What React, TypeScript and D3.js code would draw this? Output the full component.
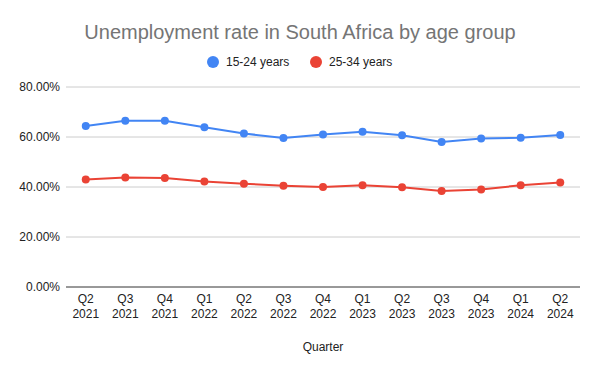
import React from 'react';
import * as d3 from 'd3';

const quarters = ['Q2', 'Q3', 'Q4', 'Q1', 'Q2', 'Q3', 'Q4', 'Q1', 'Q2', 'Q3', 'Q4', 'Q1', 'Q2'];
const years = ['2021', '2021', '2021', '2022', '2022', '2022', '2022', '2023', '2023', '2023', '2023', '2024', '2024'];
const youth = [64.4, 66.5, 66.5, 63.9, 61.4, 59.6, 61.0, 62.1, 60.7, 58.0, 59.4, 59.7, 60.8];
const adults = [43.0, 43.8, 43.6, 42.2, 41.3, 40.5, 40.0, 40.7, 39.9, 38.4, 39.0, 40.7, 41.8];
const yTicks = [0, 20, 40, 60, 80];

const App = () => {
  const width = 600;
  const height = 371;
  const blue = '#4285F4';
  const red = '#EA4335';
  const margin = { top: 87, right: 20, bottom: 84, left: 66 };
  const font = 'Arial, "Liberation Sans", sans-serif';

  const idx = d3.range(quarters.length);
  const xScale = d3
    .scaleBand<number>()
    .domain(idx)
    .range([margin.left, width - margin.right]);
  const cx = (i: number) => xScale(i)! + xScale.bandwidth() / 2;

  const yScale = d3
    .scaleLinear()
    .domain([0, 80])
    .range([height - margin.bottom, margin.top]);

  const line = d3
    .line<number>()
    .x((_, i) => cx(i))
    .y(d => yScale(d));

  const series = [
    { name: '15-24 years', values: youth, color: blue },
    { name: '25-34 years', values: adults, color: red }
  ];

  return (
    <svg width={width} height={height} style={{ position: 'absolute', left: 0, top: 0 }}>
      <rect width={width} height={height} fill='#fff' />
      <text x={300} y={39} textAnchor='middle' fontFamily={font} fontSize={20} fill='#757575'>
        Unemployment rate in South Africa by age group
      </text>
      {series.map((s, i) => (
        <g key={s.name} transform={`translate(${213 + i * 103}, 62)`}>
          <circle r={6} cx={0} cy={0} fill={s.color} />
          <text x={13} y={4} fontFamily={font} fontSize={12} fill='#222'>
            {s.name}
          </text>
        </g>
      ))}
      {yTicks.map(t => (
        <g key={t}>
          {t !== 0 && (
            <line
              x1={margin.left}
              x2={width - margin.right}
              y1={yScale(t)}
              y2={yScale(t)}
              stroke='#ccc'
              strokeWidth={1}
            />
          )}
          <text
            x={margin.left - 6}
            y={yScale(t) + 4}
            textAnchor='end'
            fontFamily={font}
            fontSize={12}
            fill='#222'
          >
            {d3.format('.2f')(t) + '%'}
          </text>
        </g>
      ))}
      {series.map(s => (
        <g key={s.name}>
          <path d={line(s.values) || ''} fill='none' stroke={s.color} strokeWidth={2} />
          {s.values.map((v, i) => (
            <circle key={i} r={4} cx={cx(i)} cy={yScale(v)} fill={s.color} />
          ))}
        </g>
      ))}
      <line
        x1={margin.left}
        x2={width - margin.right}
        y1={yScale(0)}
        y2={yScale(0)}
        stroke='#333'
        strokeWidth={1}
      />
      {idx.map(i => (
        <text key={i} textAnchor='middle' fontFamily={font} fontSize={12} fill='#222'>
          <tspan x={cx(i)} y={yScale(0) + 16}>{quarters[i]}</tspan>
          <tspan x={cx(i)} y={yScale(0) + 31}>{years[i]}</tspan>
        </text>
      ))}
      <text
        x={(margin.left + width - margin.right) / 2}
        y={351}
        textAnchor='middle'
        fontFamily={font}
        fontSize={12}
        fill='#222'
      >
        Quarter
      </text>
    </svg>
  );
};

export default App;
